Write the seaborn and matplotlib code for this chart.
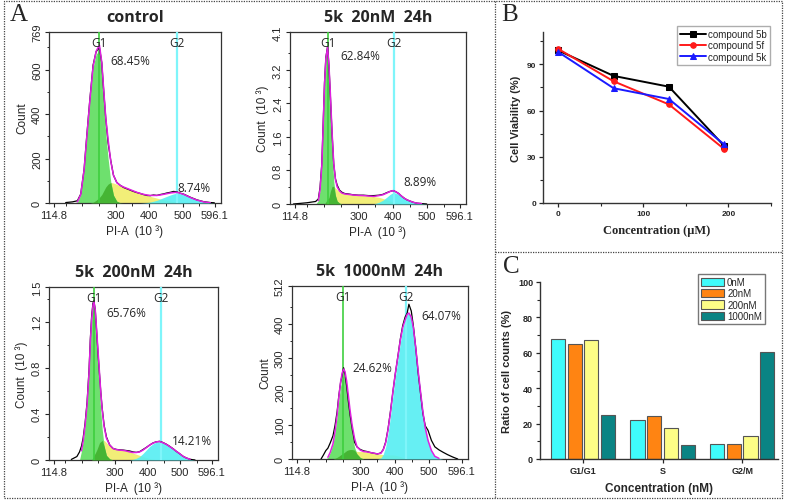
## composite figure: cell cycle histograms (A), viability curves (B), phase distribution bars (C)
import numpy as np
import pandas as pd
import matplotlib
matplotlib.use('Agg')
import matplotlib.pyplot as plt
import seaborn as sns
from matplotlib.patches import Rectangle
from matplotlib.lines import Line2D

sns.set_theme(style='ticks')
plt.rcParams['font.family'] = ['Liberation Sans', 'DejaVu Sans']

W, H = 787, 502

# ---------------- panel A data (PI-A in 10^3, counts) ----------------
ctrl_x = [150, 170, 185, 195, 205, 213, 222, 232, 241, 251, 258, 264, 270, 277, 285, 293, 303, 313, 323, 333,
          343, 353, 363, 373, 383, 393, 403, 413, 423, 433, 443, 453, 463, 473, 483, 493, 503, 513, 523, 533,
          543, 553, 563, 573, 583, 595]
ctrl_count = [2, 5, 10, 40, 150, 300, 460, 620, 680, 700, 630, 500, 380, 270, 190, 125, 92, 80, 70, 64,
              58, 52, 47, 43, 38, 34, 33, 36, 34, 38, 41, 45, 48, 52, 50, 44, 40, 33, 26, 20,
              14, 10, 6, 4, 2, 1]
ctrl_g1 = [0, 0, 5, 38, 148, 295, 455, 610, 670, 685, 595, 450, 310, 200, 95, 35, 8, 1, 0, 0,
           0, 0, 0, 0, 0, 0, 0, 0, 0, 0, 0, 0, 0, 0, 0, 0, 0, 0, 0, 0,
           0, 0, 0, 0, 0, 0]
ctrl_s = [0, 0, 0, 0, 0, 0, 0, 3, 12, 25, 38, 55, 72, 85, 92, 90, 84, 78, 72, 66,
          60, 54, 48, 43, 38, 34, 30, 26, 22, 18, 15, 12, 9, 6, 4, 2, 1, 0, 0, 0,
          0, 0, 0, 0, 0, 0]
ctrl_g2 = [0, 0, 0, 0, 0, 0, 0, 0, 0, 0, 0, 0, 0, 0, 0, 0, 0, 0, 0, 0,
           0, 0, 0, 0, 1, 2, 4, 8, 12, 18, 24, 30, 36, 41, 44, 42, 38, 32, 25, 19,
           13, 9, 5, 3, 1, 0]

nm20_x = [110, 150, 175, 183, 188, 193, 197, 201, 205, 210, 214, 218, 223, 228, 233, 238, 245, 252, 260, 270,
          285, 300, 315, 330, 345, 360, 372, 383, 393, 402, 410, 418, 426, 434, 442, 451, 461, 471, 485, 500]
nm20_count = [0, 0.03, 0.06, 0.12, 0.4, 0.95, 1.9, 2.9, 3.5, 3.75, 3.3, 2.6, 1.7, 0.95, 0.6, 0.45, 0.33, 0.28, 0.25, 0.24,
              0.22, 0.21, 0.21, 0.2, 0.2, 0.21, 0.23, 0.27, 0.3, 0.32, 0.29, 0.25, 0.19, 0.14, 0.1, 0.07, 0.04, 0.02, 0.01, 0]
nm20_g1 = [0, 0, 0, 0.08, 0.35, 0.9, 1.85, 2.85, 3.42, 3.62, 3.15, 2.35, 1.3, 0.55, 0.2, 0.07, 0.02, 0, 0, 0,
           0, 0, 0, 0, 0, 0, 0, 0, 0, 0, 0, 0, 0, 0, 0, 0, 0, 0, 0, 0]
nm20_s = [0, 0, 0, 0, 0, 0, 0, 0, 0.05, 0.12, 0.15, 0.3, 0.42, 0.42, 0.38, 0.34, 0.29, 0.26, 0.24, 0.23,
          0.215, 0.205, 0.2, 0.19, 0.18, 0.16, 0.13, 0.1, 0.07, 0.05, 0.03, 0.02, 0.01, 0, 0, 0, 0, 0, 0, 0]
nm20_g2 = [0, 0, 0, 0, 0, 0, 0, 0, 0, 0, 0, 0, 0, 0, 0, 0, 0, 0, 0, 0,
           0, 0, 0, 0, 0, 0.04, 0.09, 0.16, 0.23, 0.27, 0.26, 0.23, 0.18, 0.14, 0.1, 0.07, 0.04, 0.02, 0.01, 0]

nm200_x = [168, 185, 193, 199, 204, 210, 216, 222, 226, 230, 234, 237, 241, 246, 250, 254, 258, 262, 268, 275,
           285, 295, 305, 315, 326, 336, 346, 356, 366, 376, 386, 397, 407, 417, 427, 437, 447, 458, 468, 478,
           488, 498, 508, 518, 530, 545]
nm200_count = [0.005, 0.03, 0.07, 0.12, 0.19, 0.32, 0.5, 0.78, 1.05, 1.25, 1.36, 1.38, 1.3, 1.08, 0.9, 0.74, 0.58, 0.45, 0.3, 0.2,
               0.13, 0.1, 0.092, 0.088, 0.086, 0.082, 0.078, 0.07, 0.066, 0.072, 0.09, 0.11, 0.13, 0.148, 0.158, 0.162, 0.152, 0.136, 0.118, 0.098,
               0.075, 0.055, 0.033, 0.018, 0.006, 0]
nm200_g1 = [0, 0, 0, 0.08, 0.16, 0.3, 0.48, 0.76, 1.03, 1.22, 1.32, 1.33, 1.24, 1.0, 0.8, 0.6, 0.42, 0.27, 0.12, 0.04,
            0.01, 0, 0, 0, 0, 0, 0, 0, 0, 0, 0, 0, 0, 0, 0, 0, 0, 0, 0, 0,
            0, 0, 0, 0, 0, 0]
nm200_s = [0, 0, 0, 0, 0, 0, 0, 0, 0, 0, 0.02, 0.04, 0.06, 0.09, 0.12, 0.15, 0.16, 0.17, 0.17, 0.15,
           0.12, 0.1, 0.09, 0.086, 0.083, 0.078, 0.07, 0.06, 0.05, 0.04, 0.03, 0.02, 0.012, 0.006, 0.002, 0, 0, 0, 0, 0,
           0, 0, 0, 0, 0, 0]
nm200_g2 = [0, 0, 0, 0, 0, 0, 0, 0, 0, 0, 0, 0, 0, 0, 0, 0, 0, 0, 0, 0,
            0, 0, 0, 0, 0, 0, 0, 0.005, 0.015, 0.03, 0.055, 0.088, 0.118, 0.14, 0.155, 0.16, 0.15, 0.135, 0.116, 0.097,
            0.075, 0.055, 0.033, 0.018, 0.006, 0]

nm1000_x = [185, 192, 199, 205, 212, 220, 226, 232, 237, 242, 247, 251, 255, 260, 265, 270, 276, 283, 290, 300,
            310, 320, 330, 340, 350, 360, 367, 374, 381, 388, 395, 402, 410, 417, 424, 431, 437, 442, 449, 455,
            462, 469, 476, 483, 490, 498, 508, 518, 530, 542, 555, 570, 585]
nm1000_count = [0, 12, 25, 32, 48, 69, 100, 140, 187, 225, 250, 270, 250, 215, 170, 130, 90, 50, 36, 28,
                24, 22, 19, 17, 15, 18, 28, 50, 89, 140, 197, 250, 305, 355, 395, 420, 432, 458, 438, 395,
                330, 256, 195, 135, 98, 85, 55, 36, 27, 20, 13, 6, 0]
nm1000_g1 = [0, 0, 0, 5, 20, 45, 80, 125, 175, 215, 240, 248, 238, 205, 160, 115, 72, 35, 15, 4,
             0, 0, 0, 0, 0, 0, 0, 0, 0, 0, 0, 0, 0, 0, 0, 0, 0, 0, 0, 0,
             0, 0, 0, 0, 0, 0, 0, 0, 0, 0, 0, 0, 0]
nm1000_s = [0, 0, 0, 0, 0, 0, 2, 5, 8, 12, 15, 18, 21, 25, 27, 28, 28, 26, 22, 22,
            22, 21, 19, 17, 15, 14, 13, 12, 12, 12, 12, 11, 9, 7, 4, 2, 0, 0, 0, 0,
            0, 0, 0, 0, 0, 0, 0, 0, 0, 0, 0, 0, 0]
nm1000_g2 = [0, 0, 0, 0, 0, 0, 0, 0, 0, 0, 0, 0, 0, 0, 0, 0, 0, 0, 0, 0,
             0, 0, 0, 0, 0, 3, 14, 36, 75, 125, 185, 240, 295, 345, 385, 410, 428, 432, 420, 390,
             330, 262, 200, 140, 92, 55, 25, 8, 2, 0, 0, 0, 0]

# ---------------- panel B data ----------------
conc_um = [0, 65, 130, 195]
via_5b = [99, 82.5, 75.5, 37]
via_5f = [100, 79, 64, 35]
via_5k = [98, 74.5, 67.5, 38]

# ---------------- panel C data ----------------
phases = ['G1/G1', 'S', 'G2/M']
doses = ['0nM', '20nM', '200nM', '1000nM']
ratio_0 = [67.8, 22.3, 8.2]
ratio_20 = [64.8, 24.5, 8.6]
ratio_200 = [67.2, 17.4, 13.2]
ratio_1000 = [24.6, 8.0, 60.7]


def box(l, b, w, h):
    # pixel box (left, bottom, width, height) from top-left origin -> figure fraction
    return [l / W, 1 - b / H, w / W, h / H]


fig = plt.figure(figsize=(W / 100, H / 100), dpi=100)


def hist_panel(pos, title, x, count, g1, s, g2, ylim, yticks, ylabels, yminor, ylab,
               g1_pos, g2_pos, g1_txt, g2_txt):
    ax = fig.add_axes(box(*pos))
    x = np.array(x)
    g1 = np.array(g1, dtype=float)
    s = np.array(s, dtype=float)
    g2 = np.array(g2, dtype=float)
    # modelled phases
    ax.fill_between(x, s, color='#f2ee78', lw=0, zorder=1)
    ax.fill_between(x, g1, color='#6ee06e', lw=0, zorder=2)
    ax.fill_between(x, np.minimum(g1, s), color='#46b534', lw=0, zorder=3)
    ax.fill_between(x, g2, color='#55eef2', lw=0, alpha=0.9, zorder=3)
    ax.axvline(g1_pos, color='#3fcf3f', lw=1.2, zorder=4)
    ax.axvline(g2_pos, color='#7ff5fa', lw=1.6, zorder=4)
    ax.plot(x, count, color='black', lw=0.9, zorder=5)
    fit = g1 + s + g2
    fit = np.where(fit > 0, fit, np.nan)
    ax.plot(x, fit, color='#e020e0', lw=1.1, zorder=6)

    ax.text(g1_pos, ylim[1] * 0.94, 'G1', ha='center', va='center', fontsize=8.5, family='Open Sans', zorder=7)
    ax.text(g2_pos, ylim[1] * 0.94, 'G2', ha='center', va='center', fontsize=8.5, family='Open Sans', zorder=7)
    ax.text(g1_txt[0], g1_txt[1], g1_txt[2], ha='left', va='center', fontsize=8.5, family='Open Sans', zorder=7)
    ax.text(g2_txt[0], g2_txt[1], g2_txt[2], ha='left', va='center', fontsize=8.5, family='Open Sans', zorder=7)

    ax.set_xlim(100, 615)
    ax.set_ylim(*ylim)
    ax.set_xticks([114.8, 300, 400, 500, 596.1], labels=['114.8', '300', '400', '500', '596.1'])
    ax.set_xticks([150, 200, 250, 350, 450, 550], minor=True)
    ax.set_yticks(yticks, labels=ylabels)
    ax.set_yticks(yminor, minor=True)
    ax.tick_params(axis='both', which='major', direction='out', length=3, width=0.8, labelsize=8, pad=2)
    ax.tick_params(axis='both', which='minor', direction='out', length=1.8, width=0.7)
    ax.tick_params(axis='y', labelrotation=90)
    plt.setp(ax.get_yticklabels(), va='center')
    for sp in ax.spines.values():
        sp.set_linewidth(0.9)
        sp.set_color('#333333')
    ax.set_xlabel('PI-A  (10 \u00b3)', fontsize=8.5, labelpad=3)
    ax.set_ylabel(ylab, fontsize=8.5, labelpad=3)
    ax.set_title(title, fontsize=11.5, fontweight='bold', family='Open Sans', pad=8)
    return ax


hist_panel((49, 204, 172, 171), 'control', ctrl_x, ctrl_count, ctrl_g1, ctrl_s, ctrl_g2,
           (0, 769), [0, 200, 400, 600, 769], ['0', '200', '400', '600', '769'], [100, 300, 500, 700], 'Count',
           251, 483, (283, 641, '68.45%'), (483, 70, '8.74%'))
hist_panel((290, 205, 176, 172), '5k  20nM  24h', nm20_x, nm20_count, nm20_g1, nm20_s, nm20_g2,
           (0, 4.1), [0, 0.8, 1.6, 2.4, 3.2, 4.1], ['0', '0.8', '1.6', '2.4', '3.2', '4.1'],
           [0.4, 1.2, 2.0, 2.8, 3.6], 'Count  (10 \u00b3)',
           210, 405, (246, 3.54, '62.84%'), (431, 0.53, '8.89%'))
hist_panel((49, 461, 169, 173), '5k  200nM  24h', nm200_x, nm200_count, nm200_g1, nm200_s, nm200_g2,
           (0, 1.5), [0, 0.4, 0.8, 1.2, 1.5], ['0', '0.4', '0.8', '1.2', '1.5'],
           [0.2, 0.6, 1.0, 1.4], 'Count  (10 \u00b3)',
           237, 442, (275, 1.28, '65.76%'), (473, 0.171, '14.21%'))
hist_panel((292, 460, 176, 173), '5k  1000nM  24h', nm1000_x, nm1000_count, nm1000_g1, nm1000_s, nm1000_g2,
           (0, 512), [0, 100, 200, 300, 400, 512], ['0', '100', '200', '300', '400', '512'],
           [50, 150, 250, 350, 450], 'Count',
           249, 434, (278, 271, '24.62%'), (478, 425, '64.07%'))

# ---------------- panel B ----------------
axB = fig.add_axes(box(543, 204, 228, 171))
sns.lineplot(x=conc_um, y=via_5b, color='black', marker='s', markersize=4, markeredgecolor='black',
             lw=1.4, label='compound 5b', ax=axB)
sns.lineplot(x=conc_um, y=via_5f, color='#ff1a1a', marker='o', markersize=4, markeredgecolor='#ff1a1a',
             lw=1.4, label='compound 5f', ax=axB)
sns.lineplot(x=conc_um, y=via_5k, color='#1a1aff', marker='^', markersize=4.5, markeredgecolor='#1a1aff',
             lw=1.4, label='compound 5k', ax=axB)
axB.set_xlim(-18, 250)
axB.set_ylim(0, 111)
axB.set_xticks([0, 100, 200])
axB.set_xticks([50, 150, 250], minor=True)
axB.set_yticks([0, 30, 60, 90])
axB.set_yticks([15, 45, 75, 105], minor=True)
axB.tick_params(axis='both', which='major', direction='out', length=3, width=0.9, labelsize=6, pad=2)
axB.tick_params(axis='both', which='minor', direction='out', length=2, width=0.8)
for lab in axB.get_xticklabels() + axB.get_yticklabels():
    lab.set_fontweight('bold')
sns.despine(ax=axB)
for sp in ['left', 'bottom']:
    axB.spines[sp].set_linewidth(1.0)
    axB.spines[sp].set_color('#333333')
axB.set_ylabel('Cell Viability (%)', fontsize=8, fontweight='bold', labelpad=4)
axB.set_xlabel('Concentration (\u03bcM)', fontsize=9, fontweight='bold', family='Liberation Serif', labelpad=5)
axB.legend(loc='upper right', bbox_to_anchor=(0.996, 1.035), fontsize=7, frameon=True, fancybox=False,
           edgecolor='#999999', borderpad=0.3, labelspacing=0.15, handlelength=2.6, handletextpad=0.3,
           borderaxespad=0)

# ---------------- panel C ----------------
df = pd.DataFrame({
    'phase': phases * 4,
    'dose': [d for d in doses for _ in phases],
    'ratio': ratio_0 + ratio_20 + ratio_200 + ratio_1000,
})
axC = fig.add_axes(box(540, 460, 238, 177))
sns.barplot(data=df, x='phase', y='ratio', hue='dose', order=phases, hue_order=doses,
            palette=['#3ffcfc', '#ff8412', '#fdfd86', '#0a8484'], saturation=1, width=0.84, gap=0.15,
            edgecolor='#555555', linewidth=0.8, errorbar=None, ax=axC)
axC.set_xlim(-0.54, 2.45)
axC.set_ylim(0, 100)
axC.set_yticks([0, 20, 40, 60, 80, 100])
axC.set_yticks([10, 30, 50, 70, 90], minor=True)
axC.tick_params(axis='both', which='major', direction='out', length=3, width=0.9, labelsize=6.5, pad=2)
axC.tick_params(axis='y', which='minor', direction='out', length=2, width=0.8)
for lab in axC.get_xticklabels() + axC.get_yticklabels():
    lab.set_fontweight('bold')
sns.despine(ax=axC)
for sp in ['left', 'bottom']:
    axC.spines[sp].set_linewidth(1.0)
    axC.spines[sp].set_color('#333333')
axC.set_ylabel('Ratio of cell counts (%)', fontsize=8, fontweight='bold', labelpad=4)
axC.set_xlabel('Concentration (nM)', fontsize=8.5, fontweight='bold', labelpad=5)
axC.legend(loc='upper right', bbox_to_anchor=(0.945, 1.045), fontsize=7, frameon=True, fancybox=False,
           edgecolor='#555555', borderpad=0.3, labelspacing=0.15, handlelength=2.4, handleheight=0.9,
           handletextpad=0.3, borderaxespad=0, title=None)

# ---------------- panel letters and dotted frames ----------------
fig.text(19 / W, 1 - 15 / H, 'A', family='Liberation Serif', fontsize=18, ha='center', va='center')
fig.text(510 / W, 1 - 15 / H, 'B', family='Liberation Serif', fontsize=18, ha='center', va='center')
fig.text(511 / W, 1 - 267 / H, 'C', family='Liberation Serif', fontsize=18, ha='center', va='center')

dot = dict(color='#444444', lw=0.9, ls=(0, (1, 1)), transform=fig.transFigure)
fig.add_artist(Rectangle((4 / W, 1 - 499 / H), 778 / W, 497 / H, fill=False, ec='#444444', lw=0.9,
                         ls=(0, (1, 1)), transform=fig.transFigure))
fig.add_artist(Line2D([495 / W, 495 / W], [1 - 2 / H, 1 - 499 / H], **dot))
fig.add_artist(Line2D([495 / W, 782 / W], [1 - 253 / H, 1 - 253 / H], **dot))

plt.savefig('out.png', dpi=100)
